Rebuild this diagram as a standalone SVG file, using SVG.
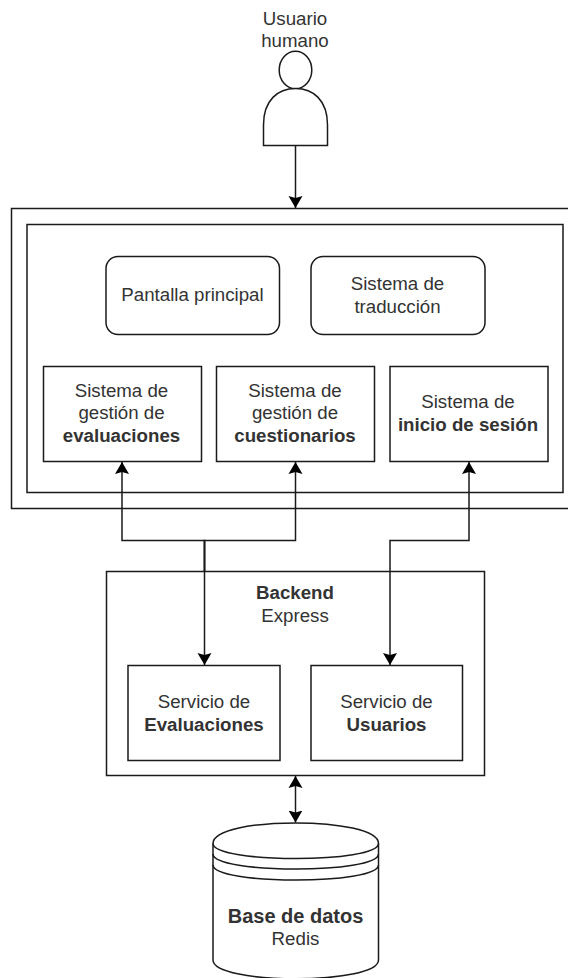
<svg xmlns="http://www.w3.org/2000/svg" width="568" height="978" viewBox="0 0 568 978">
<style>
.s{fill:#fff;stroke:#1a1a1a;stroke-width:1.5}
.n{fill:none;stroke:#1a1a1a;stroke-width:1.5}
text{font-family:"Liberation Sans",Arial,sans-serif;font-size:18.700px;fill:#333;text-anchor:middle}
.b{font-weight:bold}
</style>
<defs>
<marker id="a" markerUnits="userSpaceOnUse" markerWidth="16" markerHeight="16" refX="12" refY="8" orient="auto-start-reverse"><path d="M0 1L12 8L0 15L2 8Z" fill="#000"/></marker>
</defs>
<rect width="568" height="978" fill="#fff"/>
<g id="usuario">
<ellipse class="s" cx="295.500" cy="70" rx="16.300" ry="18.800"/>
<path class="s" d="M263.500 145.500V125C263.500 100 278 88.500 295.500 88.500S327.500 100 327.500 125V145.500Z"/>
<text x="295" y="25">Usuario</text>
<text x="295" y="47">humano</text>
</g>
<g id="frontend-exterior"><rect class="s" x="11.500" y="208.500" width="570" height="300"/></g>
<g id="frontend-interior"><rect class="s" x="27" y="224.500" width="536" height="268"/></g>
<g id="pantalla"><rect class="s" x="106" y="256.500" width="173.500" height="78" rx="12"/><text x="192.500" y="301">Pantalla principal</text></g>
<g id="traduccion"><rect class="s" x="311" y="256.500" width="174" height="78" rx="12"/><text x="397.500" y="290">Sistema de</text><text x="397.500" y="313">traducción</text></g>
<g id="evaluaciones"><rect class="s" x="43.500" y="366.500" width="158" height="95"/><text x="121.500" y="397">Sistema de</text><text x="121.500" y="419">gestión de</text><text class="b" x="121.500" y="442">evaluaciones</text></g>
<g id="cuestionarios"><rect class="s" x="216.500" y="366.500" width="158" height="95"/><text x="295" y="397">Sistema de</text><text x="295" y="419">gestión de</text><text class="b" x="295" y="442">cuestionarios</text></g>
<g id="inicio"><rect class="s" x="390" y="366.500" width="158" height="95"/><text x="468" y="408">Sistema de</text><text class="b" x="468" y="431">inicio de sesión</text></g>
<g id="backend"><rect class="s" x="106.500" y="571.500" width="378" height="204"/><text class="b" x="295" y="599">Backend</text><text x="295" y="622">Express</text></g>
<g id="serv-evaluaciones"><rect class="s" x="128" y="665.500" width="152" height="95"/><text x="204" y="708">Servicio de</text><text class="b" x="204" y="731">Evaluaciones</text></g>
<g id="serv-usuarios"><rect class="s" x="311" y="665.500" width="151.500" height="95"/><text x="386.500" y="708">Servicio de</text><text class="b" x="386.500" y="731">Usuarios</text></g>
<g id="bd">
<path class="s" d="M213 843.500C213 816 378.500 816 378.500 843.500V960C378.500 985 213 985 213 960Z"/>
<path class="n" d="M213 843.500C213 863.500 378.500 863.500 378.500 843.500M213 854C213 874 378.500 874 378.500 854M213 865C213 885 378.500 885 378.500 865"/>
<text class="b" x="295.500" y="923" style="font-size:20px">Base de datos</text><text x="295.500" y="945">Redis</text>
</g>
<g id="connectors" class="n">
<path marker-end="url(#a)" d="M295.500 145.500V208"/>
<path marker-end="url(#a)" d="M204.500 571V540.500H122V462"/>
<path marker-end="url(#a)" d="M204.500 571V540.500H295.500V462"/>
<path marker-end="url(#a)" d="M204.500 540.500V665"/>
<path marker-start="url(#a)" marker-end="url(#a)" d="M390 665V540.500H469V462"/>
<path marker-start="url(#a)" marker-end="url(#a)" d="M295.500 776V822.500"/>
</g>
</svg>
